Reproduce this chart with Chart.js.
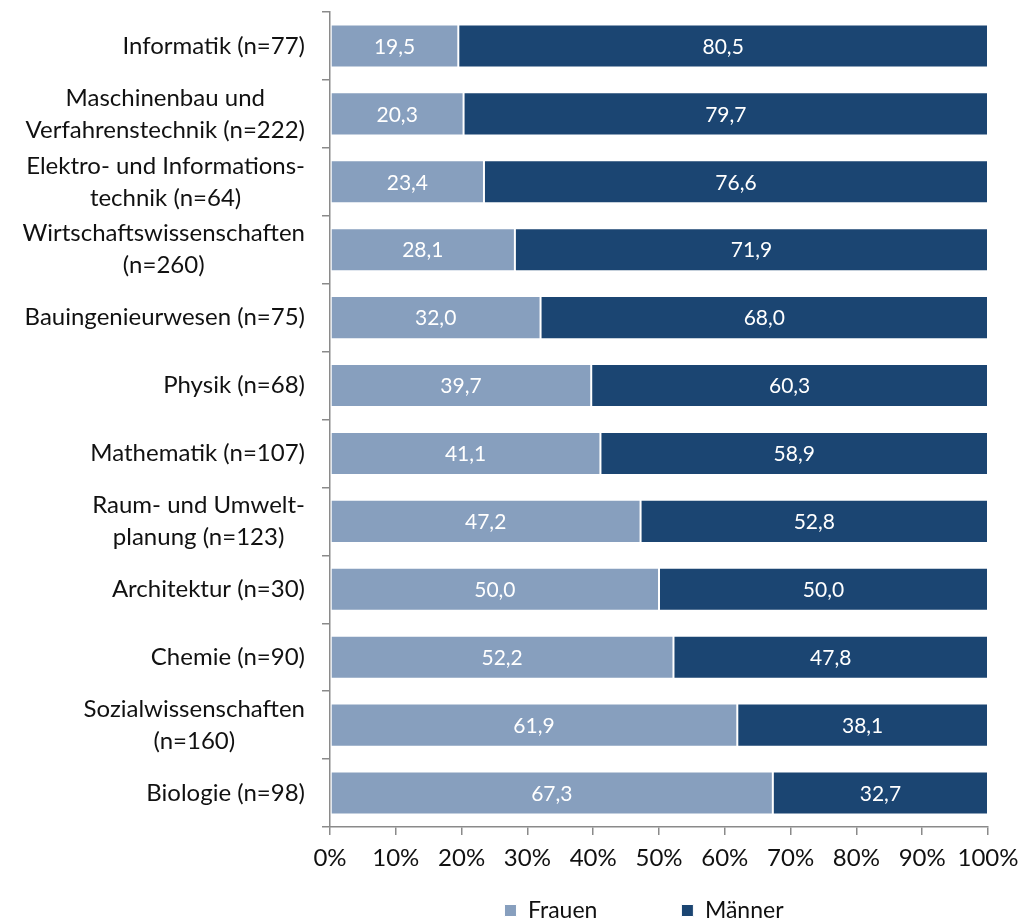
<!DOCTYPE html>
<html>
<head>
<meta charset="utf-8">
<script src="https://cdn.jsdelivr.net/npm/chart.js@4"></script>
<style>
  html, body { margin: 0; padding: 0; background: #fff; }
  #wrap { width: 1024px; height: 924px; }
</style>
</head>
<body>
<div id="wrap"><canvas id="myChart" width="1024" height="924"></canvas></div>
<script>
// Data
const categories = [
    ['Informatik (n=77)'],
    ['Maschinenbau und', 'Verfahrenstechnik (n=222)'],
    ['Elektro- und Informations-', 'technik (n=64)'],
    ['Wirtschaftswissenschaften', '(n=260)'],
    ['Bauingenieurwesen (n=75)'],
    ['Physik (n=68)'],
    ['Mathematik (n=107)'],
    ['Raum- und Umwelt-', 'planung (n=123)'],
    ['Architektur (n=30)'],
    ['Chemie (n=90)'],
    ['Sozialwissenschaften', '(n=160)'],
    ['Biologie (n=98)']
];
const frauen = [19.5, 20.3, 23.4, 28.1, 32.0, 39.7, 41.1, 47.2, 50.0, 52.2, 61.9, 67.3];
const maenner = [80.5, 79.7, 76.6, 71.9, 68.0, 60.3, 58.9, 52.8, 50.0, 47.8, 38.1, 32.7];
const seriesNames = ['Frauen', 'Männer'];
const xTicks = [0, 10, 20, 30, 40, 50, 60, 70, 80, 90, 100];

const FONT = 'Lato';
const axisGrey = '#8a8a8a';

// Category labels: block right-aligned, lines centered inside the block
const categoryLabels = {
    id: 'categoryLabels',
    afterDraw(chart) {
        const ctx = chart.ctx;
        const yScale = chart.scales.y;
        const right = yScale.right - 25;
        const lineHeight = 32;
        ctx.save();
        ctx.font = `24px ${FONT}`;
        ctx.fillStyle = '#111';
        ctx.textAlign = 'center';
        ctx.textBaseline = 'middle';
        categories.forEach((lines, i) => {
            const widest = Math.max(...lines.map(l => ctx.measureText(l).width));
            const cx = right - widest / 2;
            const cy = yScale.getPixelForValue(i);
            lines.forEach((line, j) => {
                ctx.fillText(line, cx, cy + (j - (lines.length - 1) / 2) * lineHeight);
            });
        });
        ctx.restore();
    }
};

// Values inside the bar segments
const valueLabels = {
    id: 'valueLabels',
    afterDatasetsDraw(chart) {
        const ctx = chart.ctx;
        ctx.save();
        ctx.font = `21px ${FONT}`;
        ctx.fillStyle = '#fff';
        ctx.textAlign = 'center';
        ctx.textBaseline = 'middle';
        chart.data.datasets.forEach((ds, di) => {
            chart.getDatasetMeta(di).data.forEach((bar, i) => {
                const text = ds.data[i].toFixed(1).replace('.', ',');
                ctx.fillText(text, (bar.x + bar.base) / 2, bar.y + 1);
            });
        });
        ctx.restore();
    }
};

// Put the legend under the plot area
const legendPlace = {
    id: 'legendPlace',
    afterLayout(chart) {
        const lg = chart.legend;
        const pad = lg.options.labels.padding;
        lg.left = chart.chartArea.left - 30;
        lg.right = chart.chartArea.right;
        lg.width = lg.right - lg.left;
        lg.top = 899 - pad;
        lg.bottom = chart.height;
        lg.height = lg.bottom - lg.top;
    }
};

const data = {
    labels: categories.map(c => c.join(' ')),
    datasets: [
        {
            label: seriesNames[0],
            data: frauen,
            backgroundColor: '#879fbe',
            borderColor: '#fff',
            borderWidth: 1,
            borderSkipped: false
        },
        {
            label: seriesNames[1],
            data: maenner,
            backgroundColor: '#1b4572',
            borderColor: '#fff',
            borderWidth: 1,
            borderSkipped: false
        }
    ]
};

const config = {
    type: 'bar',
    data: data,
    options: {
        indexAxis: 'y',
        responsive: false,
        animation: false,
        barPercentage: 0.66,
        categoryPercentage: 0.96,
        layout: {
            padding: { top: 12, right: 36, bottom: 0, left: 0 }
        },
        plugins: {
            legend: {
                position: 'bottom',
                maxHeight: 37,
                labels: {
                    boxWidth: 12,
                    boxHeight: 12,
                    padding: 84,
                    color: '#111',
                    font: { family: FONT, size: 23 }
                }
            },
            tooltip: { enabled: false }
        },
        scales: {
            x: {
                stacked: true,
                min: 0,
                max: 100,
                afterFit: (scale) => {
                    scale.height = 60;
                    scale.paddingLeft = 0;
                    scale.paddingRight = 0;
                },
                afterBuildTicks: (scale) => { scale.ticks = xTicks.map(v => ({ value: v })); },
                grid: {
                    drawOnChartArea: false,
                    tickLength: 8,
                    color: axisGrey,
                    lineWidth: 1.5
                },
                border: { color: axisGrey, width: 1.5 },
                ticks: {
                    padding: 9,
                    color: '#111',
                    maxRotation: 0,
                    font: { family: FONT, size: 24 },
                    callback: (v) => v + '%'
                }
            },
            y: {
                stacked: true,
                afterFit: (scale) => { scale.width = 330; },
                grid: {
                    offset: true,
                    drawOnChartArea: false,
                    tickLength: 8,
                    color: axisGrey,
                    lineWidth: 1.5
                },
                border: { color: axisGrey, width: 1.5 },
                ticks: { display: false }
            }
        }
    },
    plugins: [categoryLabels, valueLabels, legendPlace]
};

const ctx = document.getElementById('myChart').getContext('2d');
new Chart(ctx, config);
</script>
</body>
</html>
